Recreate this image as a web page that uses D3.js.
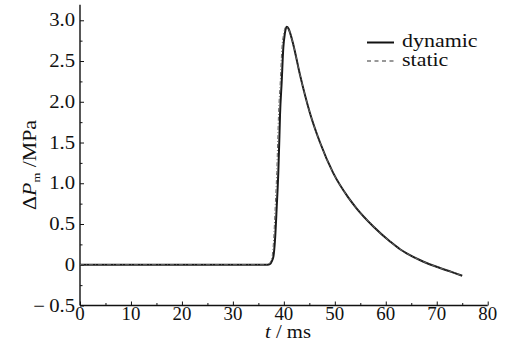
<!DOCTYPE html>
<html>
<head>
<meta charset="utf-8">
<script src="https://cdn.jsdelivr.net/npm/d3@7"></script>
<style>
  body { margin: 0; background: #fff; }
  text { font-family: "Liberation Serif", "Times New Roman", Times, serif; fill: #111; }
</style>
</head>
<body>
<div id="chart"></div>
<script>
// dynamic pressure difference
var tDynamic = [0, 36.8, 37.3, 37.6, 37.95, 38.27, 38.6, 38.91, 39.11, 39.25, 39.58, 39.89, 40.2, 40.56, 40.9, 41.3, 41.86, 43.17, 45.13, 47.1, 49.65, 52.59, 54.3, 57.56, 60.83, 62.8, 64.1, 67.3, 70.64, 73.0, 75.0];
var vDynamic = [0, 0, 0.01, 0.04, 0.10, 0.31, 0.71, 1.13, 1.53, 1.84, 2.25, 2.66, 2.84, 2.92, 2.90, 2.83, 2.70, 2.33, 1.86, 1.50, 1.13, 0.83, 0.69, 0.47, 0.286, 0.19, 0.14, 0.04, -0.04, -0.09, -0.135];

// static curve, slightly earlier on the rising edge
var tStatic = [0, 36.6, 37.1, 37.4, 37.7, 38.0, 38.3, 38.6, 38.8, 38.95, 39.3, 39.62, 39.98, 40.4, 40.85, 41.3, 41.86, 43.17, 45.13, 47.1, 49.65, 52.59, 54.3, 57.56, 60.83, 62.8, 64.1, 67.3, 70.64, 73.0, 75.0];
var vStatic = [0, 0, 0.01, 0.04, 0.10, 0.31, 0.71, 1.13, 1.53, 1.84, 2.25, 2.66, 2.84, 2.92, 2.90, 2.83, 2.70, 2.33, 1.86, 1.50, 1.13, 0.83, 0.69, 0.47, 0.286, 0.19, 0.14, 0.04, -0.04, -0.09, -0.135];

var xTicks = [0, 10, 20, 30, 40, 50, 60, 70, 80];
var xMinor = [5, 15, 25, 35, 45, 55, 65, 75];
var yTicks = [-0.5, 0, 0.5, 1.0, 1.5, 2.0, 2.5, 3.0];
var yMinor = [-0.25, 0.25, 0.75, 1.25, 1.75, 2.25, 2.75];
var seriesNames = ['dynamic', 'static'];

var width = 511, height = 352;
var svg = d3.select('#chart').append('svg')
  .attr('width', width)
  .attr('height', height);

var x = d3.scaleLinear().domain([0, 80]).range([80, 487.7]);
var y = d3.scaleLinear().domain([-0.5, 3.19]).range([305.5, 4.8]);

// axes, ticks pointing inward
var xAxis = svg.append('g')
  .attr('transform', 'translate(0,' + y(-0.5) + ')')
  .call(d3.axisBottom(x).tickValues(xTicks).tickSize(-4).tickFormat(''));
svg.append('g')
  .attr('transform', 'translate(0,' + y(-0.5) + ')')
  .call(d3.axisBottom(x).tickValues(xMinor).tickSize(-2.5).tickFormat(''))
  .select('.domain').remove();

var yAxis = svg.append('g')
  .attr('transform', 'translate(' + x(0) + ',0)')
  .call(d3.axisLeft(y).tickValues(yTicks).tickSize(-4).tickFormat(''));
svg.append('g')
  .attr('transform', 'translate(' + x(0) + ',0)')
  .call(d3.axisLeft(y).tickValues(yMinor).tickSize(-2.5).tickFormat(''))
  .select('.domain').remove();

svg.selectAll('.domain').attr('stroke', '#111').attr('stroke-width', 1.4);
svg.selectAll('.tick line').attr('stroke', '#111').attr('stroke-width', 1);
// keep the axis lines square, no outer ticks
xAxis.select('.domain').attr('d', 'M' + x(0) + ',0H' + x(80));
yAxis.select('.domain').attr('d', 'M0,' + y(3.19) + 'V' + y(-0.5));

// tick labels
svg.selectAll('.xlab')
  .data(xTicks)
  .enter().append('text')
  .attr('class', 'xlab')
  .attr('text-anchor', 'middle')
  .attr('font-size', 18)
  .attr('transform', function(d) { return 'translate(' + x(d) + ',319.5) scale(1.05,1)'; })
  .text(function(d) { return d; });

svg.selectAll('.ylab')
  .data(yTicks)
  .enter().append('text')
  .attr('class', 'ylab')
  .attr('text-anchor', 'end')
  .attr('font-size', 18)
  .attr('dy', '0.34em')
  .attr('transform', function(d) { return 'translate(75,' + y(d) + ') scale(1.15,1)'; })
  .text(function(d) {
    if (d === 0) return '0';
    if (d < 0) return '\u2212\u2009' + Math.abs(d).toFixed(1);
    return d.toFixed(1);
  });

// axis titles
var xt = svg.append('text')
  .attr('text-anchor', 'middle')
  .attr('font-size', 18)
  .attr('transform', 'translate(288,338) scale(1.15,1)');
xt.append('tspan').attr('font-style', 'italic').text('t');
xt.append('tspan').text(' / ms');

var yt = svg.append('text')
  .attr('text-anchor', 'middle')
  .attr('font-size', 19)
  .attr('transform', 'translate(36,165) rotate(-90) scale(1.15,1)');
yt.append('tspan').text('\u0394');
yt.append('tspan').attr('font-style', 'italic').text('P');
yt.append('tspan').attr('font-size', 11).attr('dy', 4).text('m');
yt.append('tspan').attr('dy', -4).text(' /MPa');

// curves
var line = d3.line()
  .x(function(d) { return x(d[0]); })
  .y(function(d) { return y(d[1]); })
  .curve(d3.curveMonotoneX);

var dynamicData = d3.zip(tDynamic, vDynamic);
var staticData = d3.zip(tStatic, vStatic);

svg.append('path')
  .datum(dynamicData)
  .attr('fill', 'none')
  .attr('stroke', '#1a1a1a')
  .attr('stroke-width', 2)
  .attr('d', line);

svg.append('path')
  .datum(staticData)
  .attr('fill', 'none')
  .attr('stroke', '#666')
  .attr('stroke-width', 1)
  .attr('stroke-dasharray', '4,2,1,2')
  .attr('d', line);

// legend
var legend = svg.append('g');
var legendY = [42.5, 61];
legend.selectAll('line')
  .data(seriesNames)
  .enter().append('line')
  .attr('x1', 367).attr('x2', 394)
  .attr('y1', function(d, i) { return legendY[i]; })
  .attr('y2', function(d, i) { return legendY[i]; })
  .attr('stroke', function(d, i) { return i === 0 ? '#111' : '#333'; })
  .attr('stroke-width', function(d, i) { return i === 0 ? 2 : 1.2; })
  .attr('stroke-dasharray', function(d, i) { return i === 0 ? null : '4,3.5'; });

legend.selectAll('text')
  .data(seriesNames)
  .enter().append('text')
  .attr('font-size', 18)
  .attr('transform', function(d, i) { return 'translate(402,' + (legendY[i] + 4.5) + ') scale(1.22,1)'; })
  .text(function(d) { return d; });
</script>
</body>
</html>
